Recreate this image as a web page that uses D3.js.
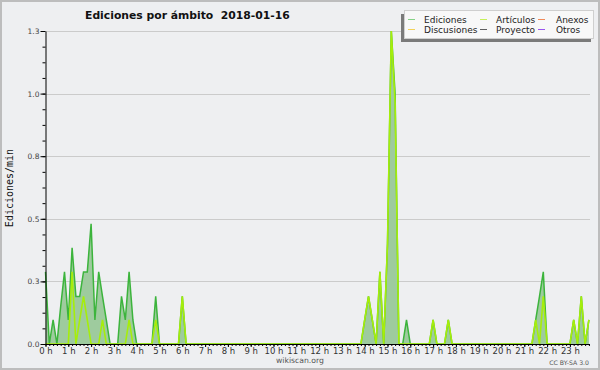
<!DOCTYPE html>
<html>
<head>
<meta charset="utf-8">
<script src="https://cdn.jsdelivr.net/npm/d3@7"></script>
<style>
  body { margin: 0; background: #eeeff1; }
  text { font-family: "DejaVu Sans", sans-serif; }
</style>
</head>
<body>
<svg id="chart" width="600" height="370"></svg>
<script>
// edits per minute, one value per 10 minutes (00:00 .. 23:50)
const ediciones = [
  0.288, 0, 0.096, 0, 0.15, 0.288, 0.096, 0.384, 0.19, 0.19, 0.288, 0.288,   // 0-2h
  0.48, 0.096, 0.288, 0.19, 0.096, 0, 0, 0, 0.19, 0.096, 0.288, 0.096,       // 2-4h
  0, 0, 0, 0, 0, 0.19, 0, 0, 0, 0, 0, 0,                                     // 4-6h
  0.19, 0, 0, 0, 0, 0, 0, 0, 0, 0, 0, 0,                                     // 6-8h
  0, 0, 0, 0, 0, 0, 0, 0, 0, 0, 0, 0,                                        // 8-10h
  0, 0, 0, 0, 0, 0, 0, 0, 0, 0, 0, 0,                                        // 10-12h
  0, 0, 0, 0, 0, 0, 0, 0, 0, 0, 0, 0,                                        // 12-14h
  0.096, 0.19, 0.096, 0, 0.288, 0, 0.4, 1.25, 1.0, 0, 0, 0.096,              // 14-16h
  0, 0, 0, 0, 0, 0, 0.096, 0, 0, 0, 0.096, 0,                                // 16-18h
  0, 0, 0, 0, 0, 0, 0, 0, 0, 0, 0, 0,                                        // 18-20h
  0, 0, 0, 0, 0, 0, 0, 0, 0, 0.096, 0.19, 0.288,                             // 20-22h
  0, 0, 0, 0, 0, 0, 0, 0.096, 0, 0.19, 0, 0.096                              // 22-24h
];
const articulos = [
  0, 0, 0, 0, 0, 0, 0, 0.288, 0, 0.096, 0.19, 0.096,
  0, 0, 0, 0.096, 0, 0, 0, 0, 0, 0, 0.096, 0,
  0, 0, 0, 0, 0, 0.096, 0, 0, 0, 0, 0, 0,
  0.19, 0, 0, 0, 0, 0, 0, 0, 0, 0, 0, 0,
  0, 0, 0, 0, 0, 0, 0, 0, 0, 0, 0, 0,
  0, 0, 0, 0, 0, 0, 0, 0, 0, 0, 0, 0,
  0, 0, 0, 0, 0, 0, 0, 0, 0, 0, 0, 0,
  0.096, 0.19, 0.096, 0, 0.288, 0, 0.4, 1.25, 0.96, 0, 0, 0,
  0, 0, 0, 0, 0, 0, 0.096, 0, 0, 0, 0.096, 0,
  0, 0, 0, 0, 0, 0, 0, 0, 0, 0, 0, 0,
  0, 0, 0, 0, 0, 0, 0, 0, 0, 0.096, 0, 0.19,
  0, 0, 0, 0, 0, 0, 0, 0.096, 0, 0.19, 0, 0.096
];

const hourLabels = ["0 h", "1 h", "2 h", "3 h", "4 h", "5 h", "6 h", "7 h", "8 h", "9 h",
  "10 h", "11 h", "12 h", "13 h", "14 h", "15 h", "16 h", "17 h", "18 h", "19 h",
  "20 h", "21 h", "22 h", "23 h"];
const yTicks = [0, 0.25, 0.5, 0.75, 1.0, 1.25];
const yTickLabels = ["0.0", "0.3", "0.5", "0.8", "1.0", "1.3"];

const legendNames = ["Ediciones", "Artículos", "Anexos", "Discusiones", "Proyecto", "Otros"];
const legendColors = ["#86d286", "#c6f05a", "#f08a5a", "#f2d25a", "#606060", "#9a55ee"];

const svg = d3.select("#chart");
const W = 600, H = 370;
const plotRight = 590;

// background + frame
svg.append("rect").attr("x", 1).attr("y", 1).attr("width", W - 2).attr("height", H - 2)
  .attr("fill", "#eeeff1").attr("stroke", "#bdbdbd").attr("stroke-width", 2);

const x = d3.scaleLinear().domain([0, 1440]).range([45.5, 592.7]);
const y = d3.scaleLinear().domain([0, 1.25]).range([344, 31]);

// grid
svg.append("g").selectAll("line").data(yTicks.slice(1)).join("line")
  .attr("x1", 45.5).attr("x2", plotRight)
  .attr("y1", d => Math.round(y(d)) + 0.5).attr("y2", d => Math.round(y(d)) + 0.5)
  .attr("stroke", "#cbcbcb").attr("stroke-width", 1);

// series
const pts = d => d.map((v, i) => [i * 10, v]);
const area = d3.area().x(d => x(d[0])).y0(y(0)).y1(d => y(d[1]));
const line = d3.line().x(d => x(d[0])).y(d => y(d[1]));

svg.append("path").datum(pts(ediciones)).attr("d", area)
  .attr("fill", "#9ecb9e");
svg.append("path").datum(pts(ediciones)).attr("d", line)
  .attr("fill", "none").attr("stroke", "#3cb43c").attr("stroke-width", 1.5)
  .attr("stroke-linejoin", "miter");
svg.append("path").datum(pts(articulos)).attr("d", line)
  .attr("fill", "none").attr("stroke", "#a6ee0a").attr("stroke-width", 1.6)
  .attr("stroke-linejoin", "miter");

// y axis
const yAxis = svg.append("g").attr("transform", "translate(45.5,0)")
  .call(d3.axisLeft(y).tickValues(yTicks).tickFormat((d, i) => yTickLabels[i])
    .tickSize(5).tickSizeOuter(0).tickPadding(1));
yAxis.selectAll("text").attr("font-size", 7.5).attr("fill", "#444")
  .attr("font-family", "DejaVu Sans");
svg.append("g").attr("transform", "translate(45.5,0)")
  .call(d3.axisLeft(y).tickValues(d3.range(0, 1.25, 0.0625)).tickFormat("")
    .tickSize(3).tickSizeOuter(0))
  .select(".domain").remove();

// x axis
const xAxis = svg.append("g").attr("transform", "translate(0,344)")
  .call(d3.axisBottom(x).tickValues(hourLabels.map((d, i) => i * 60))
    .tickFormat((d, i) => hourLabels[i]).tickSize(3).tickPadding(0.5));
xAxis.select(".domain").remove();
xAxis.selectAll("text").attr("font-size", 8.5).attr("fill", "#333")
  .attr("font-family", "DejaVu Sans");
svg.append("g").attr("transform", "translate(0,344)")
  .call(d3.axisBottom(x).tickValues(d3.range(0, 1440, 10)).tickFormat("").tickSize(2))
  .select(".domain").remove();
svg.append("line").attr("x1", 45.5).attr("x2", plotRight).attr("y1", 344.5).attr("y2", 344.5)
  .attr("stroke", "#000").attr("stroke-width", 1);

// titles
svg.append("text").attr("x", 85).attr("y", 18.5)
  .attr("font-size", 10.8).attr("font-weight", "bold").attr("fill", "#111")
  .attr("xml:space", "preserve")
  .text("Ediciones por ámbito  2018-01-16");
svg.append("text").attr("transform", "translate(13,188) rotate(-90)")
  .attr("text-anchor", "middle").attr("font-size", 10).attr("fill", "#111")
  .style("font-family", "DejaVu Sans Mono")
  .text("Ediciones/min");
svg.append("text").attr("x", 300).attr("y", 363).attr("text-anchor", "middle")
  .attr("font-size", 7.7).attr("fill", "#555").text("wikiscan.org");
svg.append("text").attr("x", 589).attr("y", 364.5).attr("text-anchor", "end")
  .attr("font-size", 6.2).attr("fill", "#555").text("CC BY-SA 3.0");

// legend
const lg = svg.append("g");
lg.append("rect").attr("x", 401).attr("y", 14).attr("width", 190).attr("height", 28)
  .attr("fill", "#7a7a7a");
lg.append("rect").attr("x", 404.5).attr("y", 10.5).attr("width", 189).attr("height", 28)
  .attr("fill", "#f8f8f8").attr("stroke", "#cfcfcf");
const colX = [408, 480, 538];
const textX = [424, 496, 556];
legendNames.forEach((name, i) => {
  const c = i % 3, r = Math.floor(i / 3);
  const yy = 19.5 + r * 10;
  lg.append("line").attr("x1", colX[c]).attr("x2", colX[c] + 7)
    .attr("y1", yy).attr("y2", yy).attr("stroke", legendColors[i]).attr("stroke-width", 1);
  lg.append("text").attr("x", textX[c]).attr("y", yy + 3)
    .attr("font-size", 9).attr("fill", "#222").text(name);
});
</script>
</body>
</html>
